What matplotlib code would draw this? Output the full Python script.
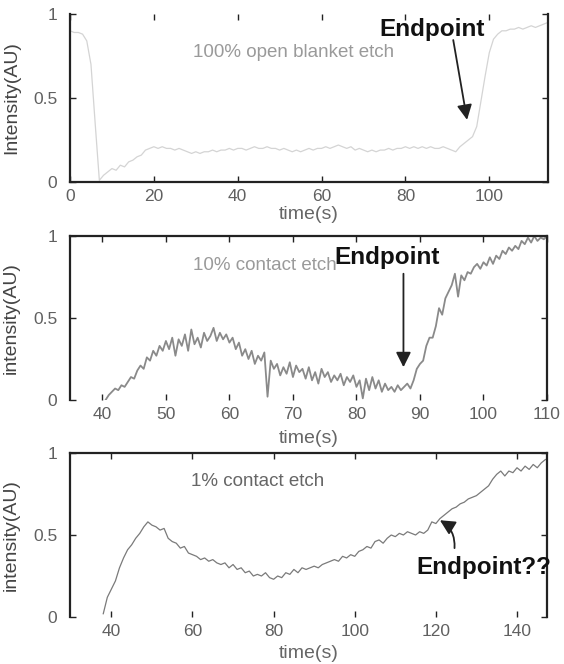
import numpy as np
import matplotlib
matplotlib.use('Agg')
import matplotlib.pyplot as plt

plt.rcParams['font.family'] = ['Liberation Sans', 'DejaVu Sans']

# 100% open blanket etch, one reading per second from t=0 to t=114
blanket_t0, blanket_t1 = 0, 114
blanket_vals = [0.90, 0.89, 0.89, 0.88, 0.84, 0.70, 0.35, 0.01, 0.04, 0.06,
                0.08, 0.07, 0.10, 0.09, 0.12, 0.13, 0.15, 0.16, 0.19, 0.20,
                0.21, 0.20, 0.21, 0.20, 0.20, 0.19, 0.20, 0.19, 0.18, 0.17,
                0.18, 0.17, 0.18, 0.18, 0.19, 0.18, 0.19, 0.19, 0.20, 0.19,
                0.20, 0.20, 0.19, 0.20, 0.21, 0.20, 0.20, 0.21, 0.20, 0.20,
                0.19, 0.20, 0.19, 0.18, 0.19, 0.18, 0.19, 0.20, 0.19, 0.20,
                0.20, 0.21, 0.20, 0.21, 0.22, 0.21, 0.20, 0.21, 0.19, 0.20,
                0.19, 0.18, 0.19, 0.18, 0.19, 0.19, 0.20, 0.19, 0.20, 0.20,
                0.21, 0.20, 0.21, 0.20, 0.21, 0.20, 0.21, 0.20, 0.20, 0.21,
                0.20, 0.19, 0.18, 0.21, 0.23, 0.25, 0.27, 0.33, 0.48, 0.63,
                0.77, 0.85, 0.88, 0.90, 0.90, 0.91, 0.91, 0.92, 0.91, 0.92,
                0.93, 0.92, 0.93, 0.94, 0.95]

# 10% contact etch, every 0.5 s from t=40.5 to t=110
contact10_t0, contact10_t1 = 40.5, 110
contact10_vals = [0.00, 0.03, 0.05, 0.07, 0.06, 0.09, 0.08, 0.11, 0.14, 0.13,
                  0.18, 0.21, 0.19, 0.26, 0.24, 0.30, 0.27, 0.33, 0.30, 0.36,
                  0.31, 0.38, 0.27, 0.37, 0.33, 0.40, 0.30, 0.43, 0.34, 0.38,
                  0.32, 0.41, 0.36, 0.39, 0.44, 0.36, 0.41, 0.37, 0.40, 0.35,
                  0.38, 0.31, 0.35, 0.27, 0.31, 0.25, 0.30, 0.22, 0.27, 0.24,
                  0.29, 0.02, 0.24, 0.19, 0.22, 0.15, 0.20, 0.16, 0.23, 0.14,
                  0.21, 0.17, 0.19, 0.13, 0.20, 0.12, 0.17, 0.10, 0.19, 0.14,
                  0.17, 0.11, 0.15, 0.12, 0.16, 0.09, 0.14, 0.11, 0.15, 0.08,
                  0.12, 0.01, 0.13, 0.06, 0.14, 0.07, 0.12, 0.05, 0.10, 0.06,
                  0.08, 0.05, 0.09, 0.06, 0.08, 0.10, 0.07, 0.12, 0.19, 0.22,
                  0.24, 0.33, 0.38, 0.38, 0.45, 0.56, 0.52, 0.62, 0.66, 0.70,
                  0.77, 0.63, 0.76, 0.73, 0.78, 0.77, 0.81, 0.83, 0.80, 0.84,
                  0.82, 0.87, 0.83, 0.88, 0.86, 0.91, 0.89, 0.93, 0.91, 0.94,
                  0.92, 0.97, 0.95, 0.99, 0.96, 1.00, 0.97, 0.99, 0.98, 1.00]

# 1% contact etch, one reading per second from t=38 to t=147
contact1_t0, contact1_t1 = 38, 147
contact1_vals = [0.02, 0.12, 0.17, 0.22, 0.30, 0.36, 0.41, 0.44, 0.48, 0.51,
                 0.55, 0.58, 0.56, 0.55, 0.53, 0.54, 0.48, 0.46, 0.45, 0.42,
                 0.43, 0.39, 0.38, 0.37, 0.35, 0.36, 0.34, 0.35, 0.33, 0.32,
                 0.33, 0.30, 0.32, 0.29, 0.30, 0.27, 0.28, 0.25, 0.26, 0.25,
                 0.27, 0.24, 0.23, 0.25, 0.24, 0.27, 0.26, 0.29, 0.27, 0.30,
                 0.29, 0.30, 0.31, 0.30, 0.32, 0.33, 0.34, 0.35, 0.34, 0.37,
                 0.36, 0.38, 0.37, 0.40, 0.41, 0.43, 0.42, 0.46, 0.47, 0.45,
                 0.48, 0.50, 0.49, 0.51, 0.50, 0.52, 0.51, 0.50, 0.52, 0.51,
                 0.53, 0.58, 0.57, 0.60, 0.62, 0.64, 0.66, 0.67, 0.69, 0.70,
                 0.72, 0.73, 0.74, 0.76, 0.78, 0.80, 0.84, 0.87, 0.89, 0.86,
                 0.89, 0.88, 0.91, 0.89, 0.92, 0.90, 0.93, 0.91, 0.94, 0.96]

yticks = [0, 0.5, 1]
ytick_labels = ['0', '0.5', '1']

fig = plt.figure(figsize=(5.64, 6.64), dpi=100)
W, H = 564, 664


def make_axes(left, top, right, bottom):
    # pixel box -> figure fraction
    return fig.add_axes([left / W, 1 - bottom / H, (right - left) / W, (bottom - top) / H])


def style(ax, xlim, xticks, hide, xlabel_y, ylabel):
    ax.set_xlim(*xlim)
    ax.set_ylim(0, 1)
    ax.set_xticks(xticks)
    ax.set_xticklabels([str(x) for x in xticks])
    ax.set_yticks(yticks)
    ax.set_yticklabels(ytick_labels)
    ax.tick_params(direction='in', length=4, width=1, top=True, right=True,
                   labelsize=12.5, labelcolor='#606060', color='#222222', pad=5)
    ax.tick_params(axis='y', pad=9)
    for side, sp in ax.spines.items():
        sp.set_linewidth(1.6)
        sp.set_color('#222222')
        if side == hide:
            sp.set_visible(False)
    ax.set_xlabel('time(s)', fontsize=14, color='#666666')
    ax.xaxis.set_label_coords(0.5, xlabel_y)
    ax.set_ylabel(ylabel, fontsize=14, color='#444444')
    ax.yaxis.set_label_coords(-0.105, 0.5)


arrow_kw = dict(arrowstyle='-|>,head_width=0.45,head_length=0.9', color='#222222',
                lw=1.3, shrinkA=0, shrinkB=0)

# panel 1
ax1 = make_axes(70, 14, 548, 182)
t1 = np.linspace(blanket_t0, blanket_t1, len(blanket_vals))
ax1.plot(t1, blanket_vals, color='#d4d4d4', lw=0.9)
style(ax1, (0, 114), [0, 20, 40, 60, 80, 100], 'top', -0.14, 'Intensity(AU)')
ax1.text(29.4, 0.77, '100% open blanket etch', fontsize=13.5, color='#9a9a9a', va='center')
ax1.annotate('', xy=(94.7, 0.37), xytext=(91.4, 0.845), arrowprops=arrow_kw)
ax1.text(86.4, 0.905, 'Endpoint', fontsize=17.5, fontweight='bold', ha='center', va='center',
         color='#111111')

# panel 2
ax2 = make_axes(70, 236, 547, 400)
t2 = np.linspace(contact10_t0, contact10_t1, len(contact10_vals))
ax2.plot(t2, contact10_vals, color='#8a8a8a', lw=1.3)
style(ax2, (34.9, 110), [40, 50, 60, 70, 80, 90, 100, 110], 'bottom', -0.18, 'intensity(AU)')
ax2.text(54.3, 0.82, '10% contact etch', fontsize=13.5, color='#9a9a9a', va='center')
ax2.annotate('', xy=(87.4, 0.20), xytext=(87.4, 0.77), arrowprops=arrow_kw)
ax2.text(84.8, 0.87, 'Endpoint', fontsize=17.5, fontweight='bold', ha='center', va='center',
         color='#111111')

# panel 3
ax3 = make_axes(70, 453, 547, 617)
t3 = np.linspace(contact1_t0, contact1_t1, len(contact1_vals))
ax3.plot(t3, contact1_vals, color='#7a7a7a', lw=0.9)
style(ax3, (29.8, 147.4), [40, 60, 80, 100, 120, 140], 'bottom', -0.17, 'intensity(AU)')
ax3.text(59.7, 0.825, '1% contact etch', fontsize=13.5, color='#666666', va='center')
ax3.annotate('', xy=(121.0, 0.59), xytext=(124.6, 0.42),
             arrowprops=dict(arrow_kw, connectionstyle='arc3,rad=0.3'))
ax3.text(115.3, 0.30, 'Endpoint??', fontsize=17.5, fontweight='bold', ha='left', va='center',
         color='#111111', clip_on=False)

fig.savefig('out.png', dpi=100)
